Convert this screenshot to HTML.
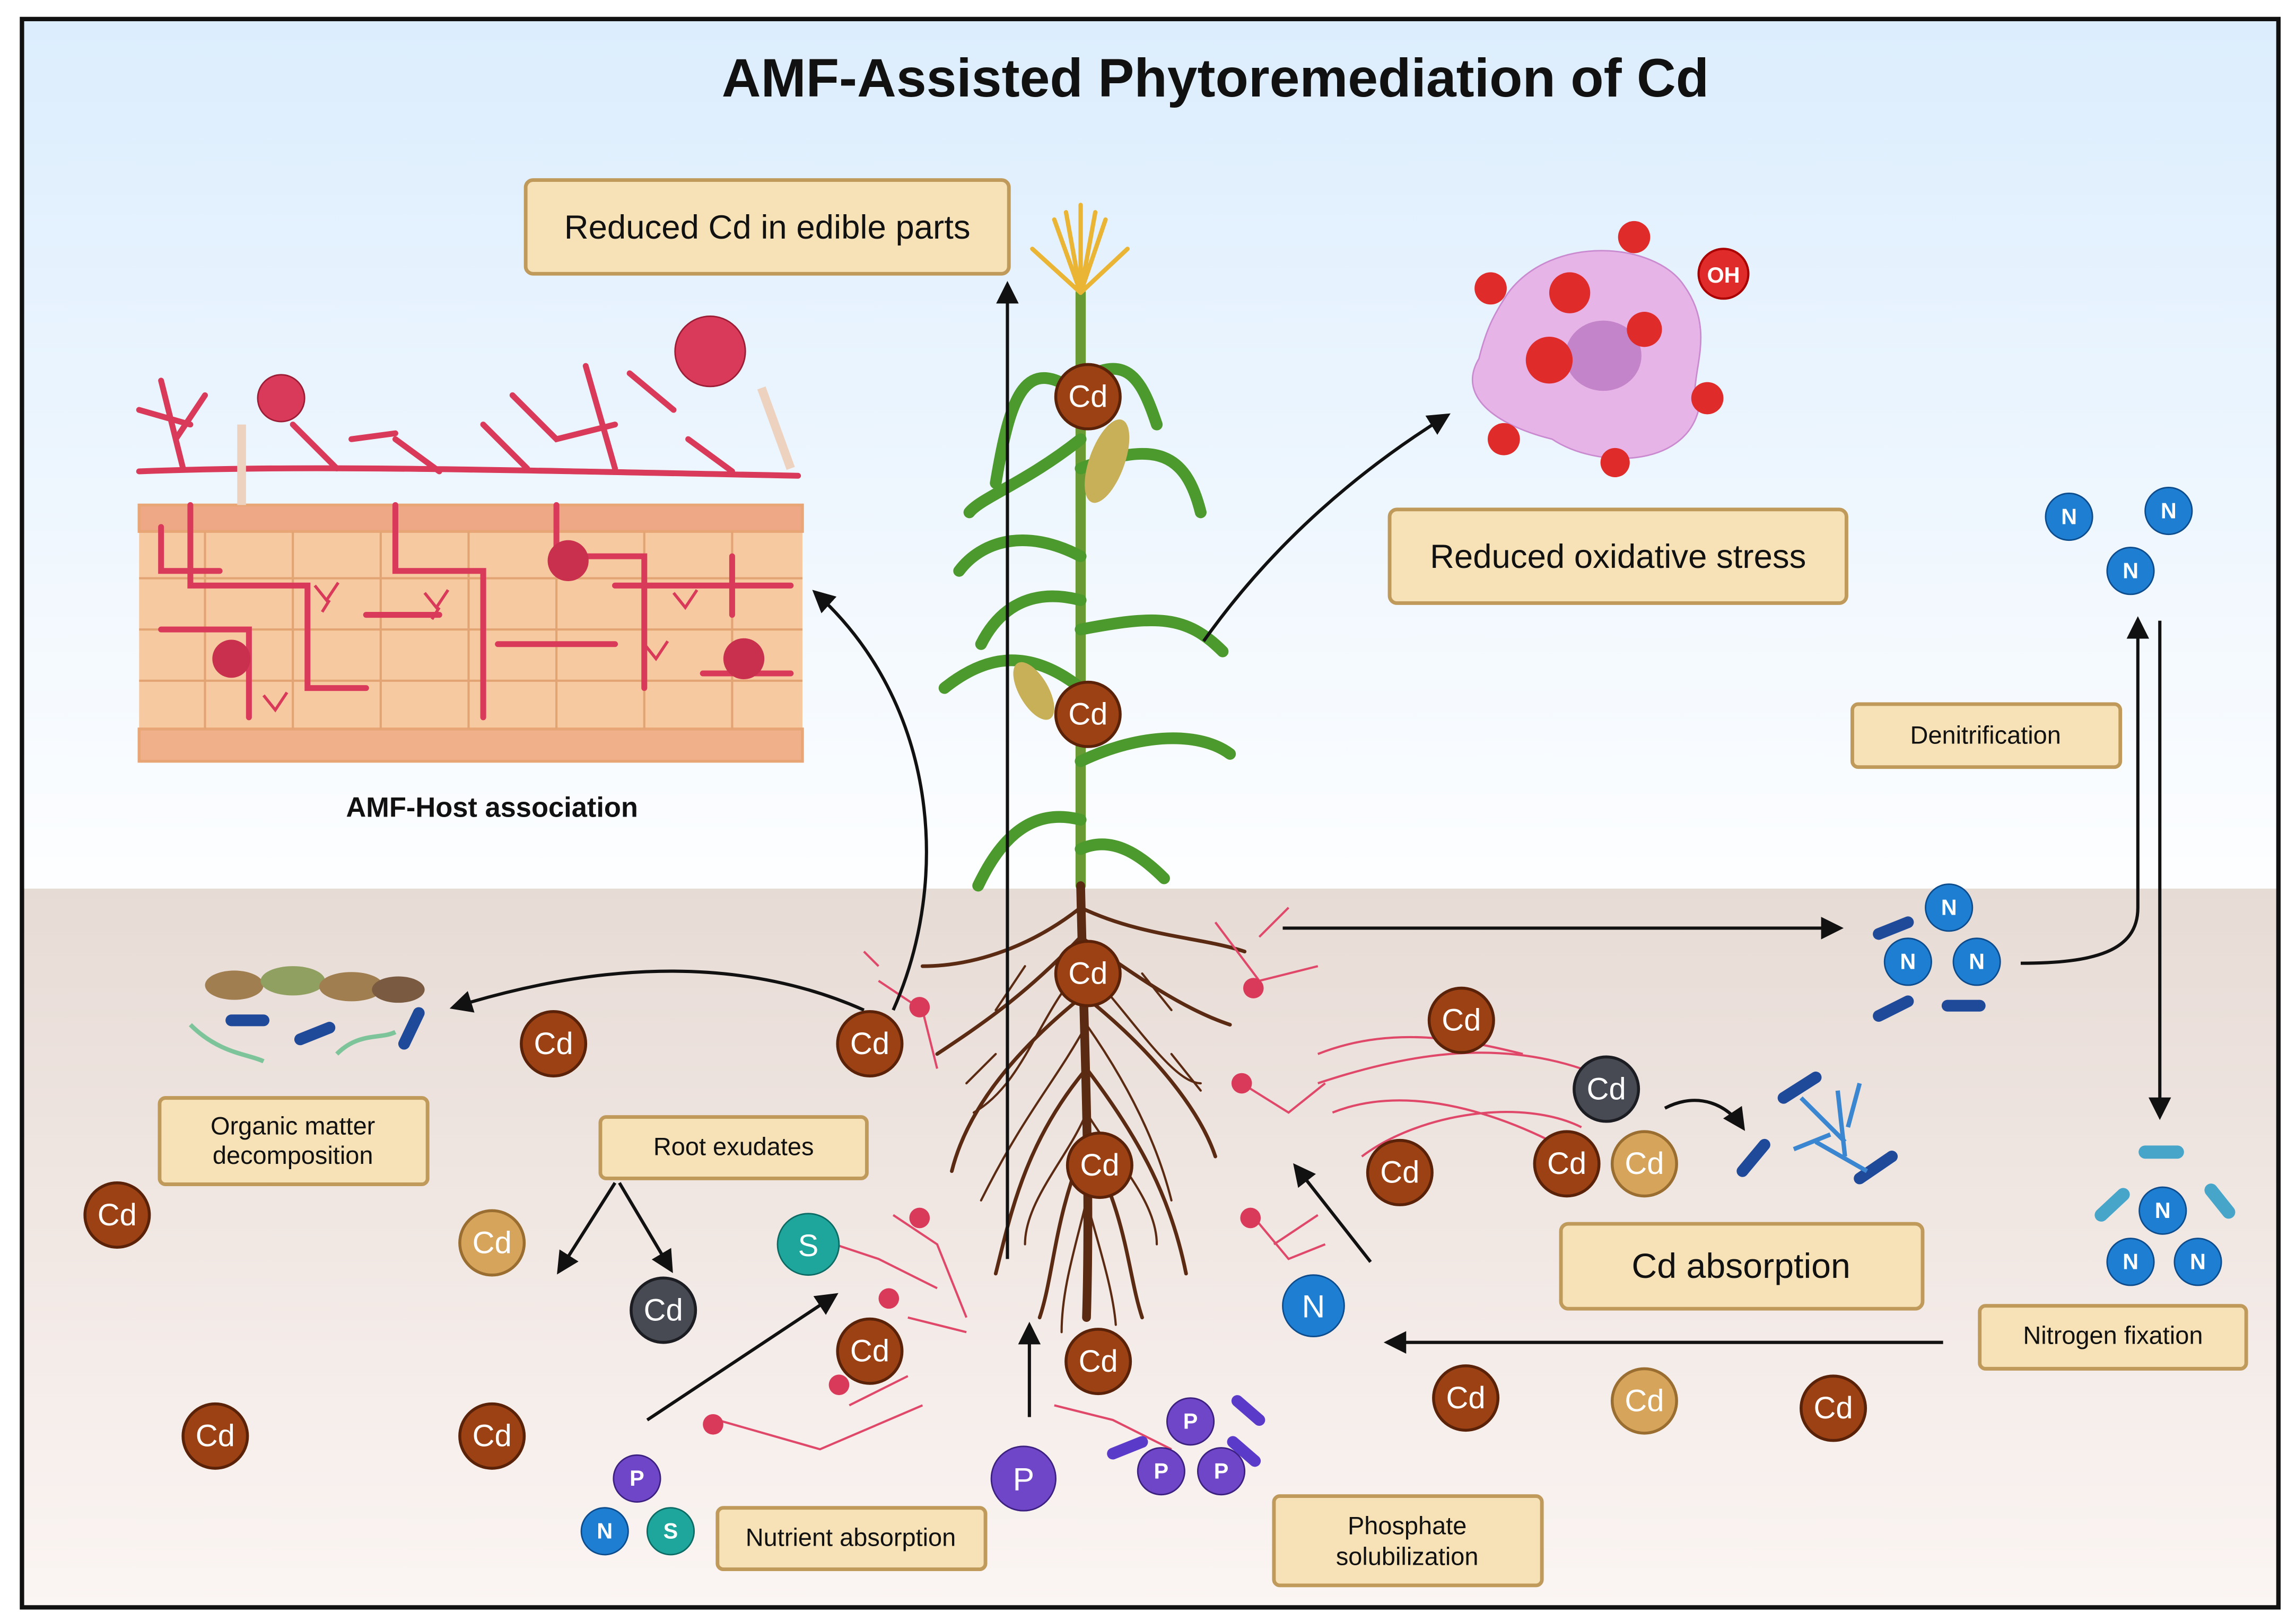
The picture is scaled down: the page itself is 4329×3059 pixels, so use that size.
<!DOCTYPE html>
<html><head><meta charset="utf-8"><style>
html,body{margin:0;padding:0;background:#fff;}
svg{display:block;}
text{font-family:"Liberation Sans",sans-serif;}
</style></head><body>
<svg width="4329" height="3059" viewBox="0 0 1568 1108" preserveAspectRatio="none" xmlns="http://www.w3.org/2000/svg">
<defs>
<linearGradient id="sky" x1="0" y1="0" x2="0" y2="1"><stop offset="0" stop-color="#dcedfd"/><stop offset="1" stop-color="#fdfeff"/></linearGradient>
<linearGradient id="soil" x1="0" y1="0" x2="0" y2="1"><stop offset="0" stop-color="#e7dbd5"/><stop offset="1" stop-color="#fbf5f3"/></linearGradient>
<marker id="ah" viewBox="0 0 10 10" refX="8" refY="5" markerWidth="7" markerHeight="7" orient="auto"><path d="M0,0 L10,5 L0,10 z" fill="#111"/></marker>
</defs>
<rect x="0" y="0" width="1568" height="1108" fill="#fff"/>
<rect x="16" y="14" width="1540" height="594" fill="url(#sky)"/>
<rect x="16" y="607" width="1540" height="490" fill="url(#soil)"/>
<rect x="15" y="13" width="1541" height="1085" fill="none" stroke="#111" stroke-width="3"/>
<text x="830" y="66" font-size="37" font-weight="bold" text-anchor="middle" fill="#111">AMF-Assisted Phytoremediation of Cd</text>

<!-- tissue -->
<g>
<rect x="95" y="345" width="453" height="175" fill="#f7c9a0"/>
<g stroke="#e8a677" stroke-width="2" fill="#f9d3ae">
<rect x="95" y="345" width="453" height="18" fill="#eea886"/>
<rect x="95" y="498" width="453" height="22" fill="#f0b08a"/>
</g>
<g stroke="#e3a474" stroke-width="1.5" fill="none">
<path d="M95 395H548M95 430H548M95 465H548"/>
<path d="M140 363V498M200 363V498M260 363V498M320 363V498M380 363V498M440 363V498M500 363V498"/>
</g>
<g stroke="#d93a5a" stroke-width="4" fill="none" stroke-linecap="round">
<path d="M95 322 C200 318 300 320 545 325"/>
<path d="M110 260 L125 320 M140 270 L120 300 M270 300 L300 322 M330 290 L360 320 M400 250 L420 320 M470 300 L500 322 M95 280 L130 290 M200 290 L230 320 M350 270 L380 300 L420 290 M430 255 L460 280 M240 300 L270 296"/>
<path d="M130 345 V400 H210 V470 H250 M270 345 V390 H330 V490 M380 345 V380 H440 V470 M420 400 H540 M110 430 H170 V490 M340 440 H420 M480 460 H540 M250 420 H300 M500 380 V420 M110 360 V390 H150"/>
</g>
<g stroke="#d93a5a" stroke-width="2" fill="none"><path d="M215 400 l8 10 l8 -12 M225 410 l-5 8 M290 405 l8 10 l8 -12 M300 415 l-5 8 M460 405 l8 10 l8 -12 M440 440 l8 10 l8 -12 M180 475 l8 10 l8 -12"/></g>
<circle cx="192" cy="272" r="16" fill="#d93a5a" stroke="#9a1c35"/>
<circle cx="485" cy="240" r="24" fill="#d93a5a" stroke="#9a1c35"/>
<path d="M165 290 V345 M520 265 L540 320" stroke="#eed2c0" stroke-width="6"/>
<circle cx="388" cy="383" r="14" fill="#c8304d"/><circle cx="158" cy="450" r="13" fill="#c8304d"/><circle cx="508" cy="450" r="14" fill="#c8304d"/>
</g>
<text x="336" y="558" font-size="19" font-weight="bold" text-anchor="middle" fill="#111">AMF-Host association</text>

<!-- boxes -->
<g fill="#f6e2b6" stroke="#c09a5b" stroke-width="2.5">
<rect x="359" y="123" width="330" height="64" rx="5"/>
<rect x="949" y="348" width="312" height="64" rx="5"/>
<rect x="1265" y="481" width="183" height="43" rx="4"/>
<rect x="109" y="750" width="183" height="59" rx="4"/>
<rect x="410" y="763" width="182" height="42" rx="4"/>
<rect x="1066" y="836" width="247" height="58" rx="5"/>
<rect x="1352" y="892" width="182" height="43" rx="4"/>
<rect x="490" y="1030" width="183" height="42" rx="4"/>
<rect x="870" y="1022" width="183" height="61" rx="4"/>
</g>
<g fill="#111" text-anchor="middle">
<text x="524" y="163" font-size="23">Reduced Cd in edible parts</text>
<text x="1105" y="388" font-size="23">Reduced oxidative stress</text>
<text x="1356" y="508" font-size="17">Denitrification</text>
<text x="200" y="775" font-size="17">Organic matter</text><text x="200" y="795" font-size="17">decomposition</text>
<text x="501" y="789" font-size="17">Root exudates</text>
<text x="1189" y="873" font-size="24">Cd absorption</text>
<text x="1443" y="918" font-size="17">Nitrogen fixation</text>
<text x="581" y="1056" font-size="17">Nutrient absorption</text>
<text x="961" y="1048" font-size="17">Phosphate</text><text x="961" y="1069" font-size="17">solubilization</text>
</g>

<!-- cell with ROS -->
<path d="M1030 200 C1060 160 1130 165 1150 195 C1175 230 1150 260 1160 280 C1150 320 1090 320 1060 300 C1020 290 995 270 1010 245 C1015 225 1020 215 1030 200Z" fill="#e7b4e8" stroke="#c98ad0"/>
<ellipse cx="1095" cy="243" rx="26" ry="24" fill="#c484c9"/>
<g fill="#e02b2b"><circle cx="1072" cy="200" r="14"/><circle cx="1058" cy="246" r="16"/><circle cx="1123" cy="225" r="12"/><circle cx="1116" cy="162" r="11"/><circle cx="1018" cy="197" r="11"/><circle cx="1166" cy="272" r="11"/><circle cx="1027" cy="300" r="11"/><circle cx="1103" cy="316" r="10"/></g>
<circle cx="1177" cy="187" r="17" fill="#e02b2b" stroke="#a00" stroke-width="1.5"/><text x="1177" y="193" font-size="15" font-weight="bold" fill="#fff" text-anchor="middle">OH</text>

<!-- plant -->
<g fill="none" stroke-linecap="round">
<path d="M738 605 V200" stroke="#6a9a33" stroke-width="7"/>
<g stroke="#4c9a2e" stroke-width="8">
<path d="M738 560 C700 550 680 580 668 605"/><path d="M738 520 C780 500 820 500 840 515"/><path d="M738 470 C700 440 670 450 645 470"/>
<path d="M738 430 C790 420 810 420 835 445"/><path d="M738 380 C700 360 670 370 655 390"/><path d="M738 320 C790 300 810 310 820 350"/>
<path d="M738 270 C700 240 690 270 680 330"/><path d="M738 260 C770 240 780 260 790 290"/><path d="M738 300 C700 330 670 340 662 350"/>
<path d="M738 580 C760 570 780 585 795 600"/><path d="M738 410 C700 400 680 420 670 440"/>
</g>
<path d="M738 200 L720 150 M738 200 L738 140 M738 200 L755 150 M738 200 L705 170 M738 200 L770 170 M738 200 L728 145 M738 200 L748 145" stroke="#eab434" stroke-width="3"/>
</g>
<ellipse cx="756" cy="315" rx="12" ry="30" fill="#c7b057" transform="rotate(20 756 315)"/>
<ellipse cx="706" cy="472" rx="10" ry="22" fill="#c7b057" transform="rotate(-30 706 472)"/>
<!-- roots -->
<g stroke="#5a2a12" fill="none" stroke-linecap="round">
<path d="M738 605 C740 700 745 800 742 900" stroke-width="6"/>
<g stroke-width="2.5">
<path d="M738 640 C700 680 670 700 640 720 M738 640 C780 670 810 690 840 700 M740 680 C690 720 660 760 650 800 M740 680 C790 720 820 760 830 790 M742 730 C700 780 690 830 680 870 M742 730 C780 780 800 820 810 870 M742 780 C720 830 720 870 710 900 M742 780 C770 830 770 870 780 900 M738 620 C700 650 660 660 630 660 M738 620 C780 640 820 640 850 650"/>
</g>
<g stroke-width="1.5">
<path d="M740 660 C710 690 700 740 665 760 M740 660 C770 690 800 740 820 740 M742 700 C720 740 700 760 670 820 M742 700 C770 740 790 780 800 820 M742 760 C730 790 700 820 700 850 M742 760 C760 790 790 820 790 850 M742 820 C735 850 725 880 725 910 M742 820 C750 850 760 880 762 905 M700 660 L680 690 M780 665 L800 690 M680 720 L660 740 M800 720 L820 745"/>
</g></g>
<!-- hyphae pink -->
<g stroke="#e0486a" stroke-width="1.5" fill="none">
<path d="M600 670 L630 690 L640 730 M830 630 L860 670 L900 660 M848 740 L880 760 L905 740 M855 830 L880 860 L905 850 M610 830 L640 850 L660 900 M540 840 L600 860 L640 880 M490 970 L560 990 L630 960 M720 960 L760 970 L800 990 M900 740 C960 720 1020 710 1080 730 M910 760 C960 740 1020 760 1060 780 M930 790 C970 760 1040 750 1080 770 M620 900 L660 910 M580 960 L620 940 M860 640 L880 620 M870 850 L900 830 M600 660 L590 650 M900 720 C950 700 1000 710 1040 720"/>
</g>
<g fill="#d93a5a"><circle cx="628" cy="688" r="7"/><circle cx="856" cy="675" r="7"/><circle cx="848" cy="740" r="7"/><circle cx="854" cy="832" r="7"/><circle cx="628" cy="832" r="7"/><circle cx="607" cy="887" r="7"/><circle cx="573" cy="946" r="7"/><circle cx="487" cy="973" r="7"/></g>

<!-- leaves/bacteria on left -->
<g fill="#a07e50"><ellipse cx="160" cy="673" rx="20" ry="10"/><ellipse cx="200" cy="670" rx="22" ry="10" fill="#8fa060"/><ellipse cx="240" cy="674" rx="22" ry="10"/><ellipse cx="272" cy="676" rx="18" ry="9" fill="#7a5a40"/></g>
<g stroke="#1f4a9a" stroke-width="8" stroke-linecap="round"><path d="M158 697 H180 M205 710 L225 702 M276 713 L286 692"/></g>
<path d="M130 700 C150 720 170 720 180 725 M230 720 C245 705 260 710 270 705" stroke="#7dc49a" stroke-width="3" fill="none"/>

<!-- arrows -->
<g stroke="#111" stroke-width="2.2" fill="none" marker-end="url(#ah)">
<path d="M688 860 V195"/>
<path d="M822 438 C870 370 930 320 988 284"/>
<path d="M610 690 C650 600 640 480 557 405"/>
<path d="M590 690 C500 650 400 660 310 688"/>
<path d="M876 634 H1256"/>
<path d="M1380 658 C1430 658 1460 650 1460 620 V424"/>
<path d="M1475 424 V762"/>
<path d="M1327 917 H948"/>
<path d="M1137 757 C1160 745 1180 755 1190 770"/>
<path d="M936 862 L885 797"/>
<path d="M420 808 L382 868"/>
<path d="M423 808 L458 867"/>
<path d="M442 970 L570 885"/>
<path d="M703 968 V906"/>
</g>

<!-- bacteria right -->
<g stroke="#1f4a9a" stroke-width="8" stroke-linecap="round">
<path d="M1283 638 L1303 630 M1283 694 L1303 684 M1330 687 H1352 M1218 750 L1240 736 M1190 800 L1205 782 M1270 805 L1292 790"/>
</g>
<g stroke="#47a5c9" stroke-width="9" stroke-linecap="round"><path d="M1465 787 H1487 M1435 830 L1450 816 M1510 813 L1522 828"/></g>
<path d="M1230 750 L1260 780 M1255 745 L1260 790 M1240 780 L1275 800 M1270 740 L1262 770 M1225 785 L1250 775" stroke="#3a86d0" stroke-width="3"/>

<!-- nutrient circles -->
<g font-size="15" font-weight="bold" fill="#fff" text-anchor="middle">
<g fill="#1e7fd2" stroke="#0c4b8c"><circle cx="1413" cy="353" r="16"/><circle cx="1481" cy="349" r="16"/><circle cx="1455" cy="390" r="16"/>
<circle cx="1331" cy="620" r="16"/><circle cx="1303" cy="657" r="16"/><circle cx="1350" cy="657" r="16"/>
<circle cx="1477" cy="827" r="16"/><circle cx="1455" cy="862" r="16"/><circle cx="1501" cy="862" r="16"/>
<circle cx="897" cy="892" r="21"/><circle cx="413" cy="1046" r="16"/></g>
<text x="1413" y="358">N</text><text x="1481" y="354">N</text><text x="1455" y="395">N</text>
<text x="1331" y="625">N</text><text x="1303" y="662">N</text><text x="1350" y="662">N</text>
<text x="1477" y="832">N</text><text x="1455" y="867">N</text><text x="1501" y="867">N</text>
<text x="897" y="900" font-size="22" font-weight="normal">N</text><text x="413" y="1051">N</text>
<g fill="#1ea69c" stroke="#0b6a63"><circle cx="552" cy="850" r="21"/><circle cx="458" cy="1046" r="16"/></g>
<text x="552" y="858" font-size="21" font-weight="normal">S</text><text x="458" y="1051">S</text>
<g fill="#7046c8" stroke="#3b2080"><circle cx="435" cy="1010" r="16"/><circle cx="699" cy="1010" r="22"/><circle cx="813" cy="971" r="16"/><circle cx="793" cy="1005" r="16"/><circle cx="834" cy="1005" r="16"/></g>
<text x="435" y="1015">P</text><text x="699" y="1018" font-size="22" font-weight="normal">P</text><text x="813" y="976">P</text><text x="793" y="1010">P</text><text x="834" y="1010">P</text>
</g>
<g stroke="#5a3ac8" stroke-width="8" stroke-linecap="round"><path d="M760 993 L780 985 M845 957 L860 970 M842 985 L857 998"/></g>

<!-- Cd circles -->
<g font-size="21" fill="#fff" text-anchor="middle">
<g fill="#9c4114" stroke="#5a2208" stroke-width="2">
<circle cx="743" cy="271" r="22"/><circle cx="743" cy="488" r="22"/><circle cx="743" cy="665" r="22"/><circle cx="751" cy="796" r="22"/><circle cx="750" cy="930" r="22"/>
<circle cx="594" cy="713" r="22"/><circle cx="378" cy="713" r="22"/><circle cx="80" cy="830" r="22"/><circle cx="594" cy="923" r="22"/>
<circle cx="147" cy="981" r="22"/><circle cx="336" cy="981" r="22"/><circle cx="998" cy="697" r="22"/><circle cx="956" cy="801" r="22"/>
<circle cx="1070" cy="795" r="22"/><circle cx="1001" cy="955" r="22"/><circle cx="1252" cy="962" r="22"/>
</g>
<g fill="#d7a45c" stroke="#9a6e30" stroke-width="2"><circle cx="336" cy="849" r="22"/><circle cx="1123" cy="795" r="22"/><circle cx="1123" cy="957" r="22"/></g>
<g fill="#474a52" stroke="#1c1d22" stroke-width="2"><circle cx="453" cy="895" r="22"/><circle cx="1097" cy="744" r="22"/></g>
<text x="743" y="278">Cd</text><text x="743" y="495">Cd</text><text x="743" y="672">Cd</text><text x="751" y="803">Cd</text><text x="750" y="937">Cd</text>
<text x="594" y="720">Cd</text><text x="378" y="720">Cd</text><text x="80" y="837">Cd</text><text x="594" y="930">Cd</text>
<text x="147" y="988">Cd</text><text x="336" y="988">Cd</text><text x="998" y="704">Cd</text><text x="956" y="808">Cd</text>
<text x="1070" y="802">Cd</text><text x="1001" y="962">Cd</text><text x="1252" y="969">Cd</text>
<text x="336" y="856">Cd</text><text x="1123" y="802">Cd</text><text x="1123" y="964">Cd</text>
<text x="453" y="902">Cd</text><text x="1097" y="751">Cd</text>
</g>
</svg>
</body></html>
